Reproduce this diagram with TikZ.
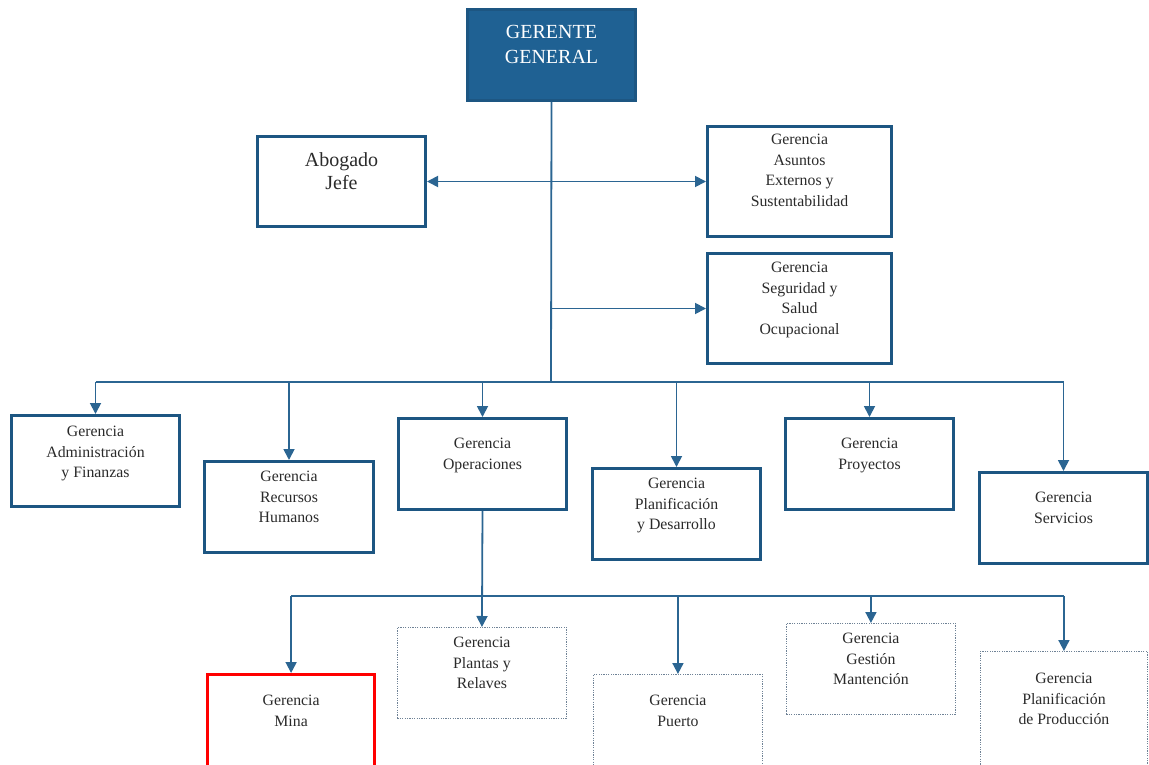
\documentclass[tikz,border=0pt]{standalone}
\usepackage{fontspec}
\setmainfont{Liberation Serif}
\usetikzlibrary{arrows.meta}
\definecolor{orgline}{HTML}{2B6592}
\definecolor{orgborder}{HTML}{1D5682}
\definecolor{orgfill}{HTML}{1F6193}
\definecolor{orgdot}{HTML}{6F8296}
\definecolor{orgtext}{HTML}{2A2A2A}
\begin{document}
\begin{tikzpicture}[x=1pt,y=-1pt,
  sbox/.style={draw=orgborder, line width=3pt, inner sep=0pt, anchor=north west},
  dbox/.style={draw=orgdot, line width=0.9pt, dash pattern=on 1.2pt off 1.2pt, inner sep=0pt, anchor=north west},
  rbox/.style={draw=red, line width=3.2pt, inner sep=0pt, anchor=north west},
  txt/.style={anchor=north, inner sep=0pt, align=center, text=orgtext, font=\fontsize{15.8}{20.5}\selectfont},
  bigtxt/.style={anchor=north, inner sep=0pt, align=center, text=orgtext, font=\fontsize{20}{23}\selectfont},
  conn/.style={draw=orgline, line width=1.8pt},
  arr/.style={conn, -{Triangle[length=11pt,width=11pt]}},
  darr/.style={conn, {Triangle[length=11pt,width=11pt]}-{Triangle[length=11pt,width=11pt]}}]
\useasboundingbox (0,0) rectangle (1149,765);
\clip (0,0) rectangle (1149,765);

% top level
\node[sbox, fill=orgfill, minimum width=168, minimum height=91] (gg) at (466,8) {};
\node[anchor=north, inner sep=0pt, align=center, text=white, font=\fontsize{20}{25}\selectfont] (ggt) at ([yshift=-17pt]gg.north) {GERENTE\\GENERAL};

% staff positions
\node[sbox, minimum width=168, minimum height=90] (abo) at (256,135) {};
\node[bigtxt] (abot) at ([yshift=-17pt]abo.north) {Abogado\\Jefe};
\node[sbox, minimum width=184, minimum height=110] (ase) at (706,125) {};
\node[txt] (aset) at ([yshift=-9pt]ase.north) {Gerencia\\Asuntos\\Externos y\\Sustentabilidad};
\node[sbox, minimum width=184, minimum height=110] (seg) at (706,252) {};
\node[txt] (segt) at ([yshift=-10pt]seg.north) {Gerencia\\Seguridad y\\Salud\\Ocupacional};

% second level
\node[sbox, minimum width=168, minimum height=91] (adm) at (10,414) {};
\node[txt] (admt) at ([yshift=-12pt]adm.north) {Gerencia\\Administración\\y Finanzas};
\node[sbox, minimum width=169, minimum height=91] (rrh) at (203,460) {};
\node[txt] (rrht) at ([yshift=-11pt]rrh.north) {Gerencia\\Recursos\\Humanos};
\node[sbox, minimum width=168, minimum height=91] (ope) at (397,417) {};
\node[txt] (opet) at ([yshift=-21pt]ope.north) {Gerencia\\Operaciones};
\node[sbox, minimum width=168, minimum height=91] (pld) at (591,467) {};
\node[txt] (pldt) at ([yshift=-11pt]pld.north) {Gerencia\\Planificación\\y Desarrollo};
\node[sbox, minimum width=168, minimum height=91] (pro) at (784,417) {};
\node[txt] (prot) at ([yshift=-21pt]pro.north) {Gerencia\\Proyectos};
\node[sbox, minimum width=168, minimum height=91] (ser) at (978,471) {};
\node[txt] (sert) at ([yshift=-21pt]ser.north) {Gerencia\\Servicios};

% third level
\node[rbox, minimum width=167, minimum height=110] (min) at (206,673) {};
\node[txt] (mint) at ([yshift=-22pt]min.north) {Gerencia\\Mina};
\node[dbox, minimum width=169, minimum height=91] (plr) at (397,627) {};
\node[txt] (plrt) at ([yshift=-10pt]plr.north) {Gerencia\\Plantas y\\Relaves};
\node[dbox, minimum width=169, minimum height=110] (pue) at (593,674) {};
\node[txt] (puet) at ([yshift=-21pt]pue.north) {Gerencia\\Puerto};
\node[dbox, minimum width=169, minimum height=91] (gma) at (786,623) {};
\node[txt] (gmat) at ([yshift=-10pt]gma.north) {Gerencia\\Gestión\\Mantención};
\node[dbox, minimum width=167, minimum height=130] (ppr) at (980,651) {};
\node[txt] (pprt) at ([yshift=-22pt]ppr.north) {Gerencia\\Planificación\\de Producción};

% connectors
\coordinate (bus) at (551,382);
\coordinate (bus2) at (482,596);
\draw[conn] (gg.south) -- (bus);
\draw[darr] (abo.east) -- (ase.west);
\draw[arr] (gg.south |- seg.west) -- (seg.west);
\draw[conn] (adm.north |- bus) -- (ser.north |- bus);
\foreach \b in {adm,rrh,ope,pld,pro,ser}
  \draw[arr] (\b.north |- bus) -- (\b.north);
\draw[arr] (ope.south) -- (plr.north);
\draw[conn] (min.north |- bus2) -- (ppr.north |- bus2);
\foreach \b in {min,pue,gma,ppr}
  \draw[arr] (\b.north |- bus2) -- (\b.north);
\end{tikzpicture}
\end{document}
